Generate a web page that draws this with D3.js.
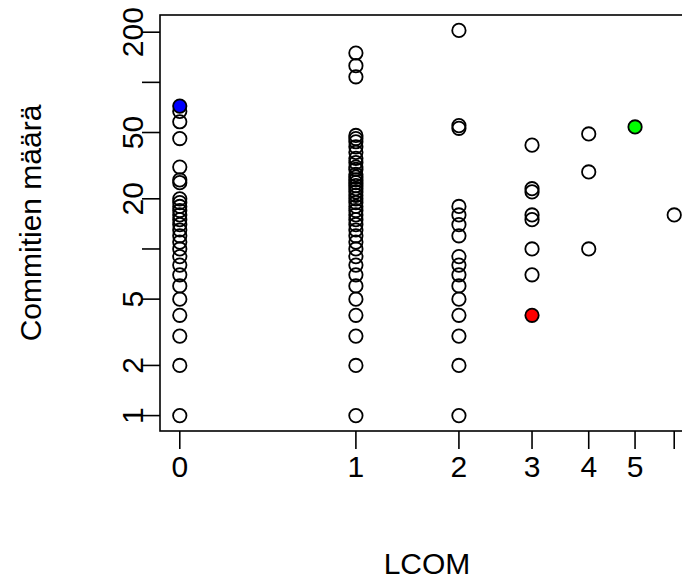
<!DOCTYPE html>
<html>
<head>
<meta charset="utf-8">
<script src="https://cdn.jsdelivr.net/npm/d3@7"></script>
<style>
  body { margin: 0; background: #fff; }
  svg { display: block; }
  text { font-family: "Liberation Sans", Arial, sans-serif; fill: #000; }
</style>
</head>
<body>
<svg id="chart" width="682" height="580"></svg>
<script>
// commits per class, grouped by LCOM value
const lcom0 = [1,2,3,4,5,6,7,8,9,10,11,12,13,14,15,16,17,18,19,20,25,26,31,46,58,67];
const lcom1 = [1,2,3,4,5,6,7,8,9,10,11,12,13,14,15,16,17,18,19,20,21,22,23,24,25,26,27,28,30,31,33,35,38,41,44,46,48,108,126,150];
const lcom2 = [1,2,3,4,5,6,7,8,9,12,14,16,18,53,55,205];
const lcom3 = [7,10,15,16,22,23,42];
const lcom4 = [10,29,49];
const lcom5 = [];
const lcom6 = [16];
// highlighted classes
const hlLcom   = [0, 3, 5];
const hlCommit = [72, 4, 54];
const hlColor  = ["#0000ff", "#ff0000", "#00ff00"];

const xTicks = [0,1,2,3,4,5,6];
const xTickLabels = ["0","1","2","3","4","5",""];
const yTicks = [1,2,5,10,20,50,100,200];
const yTickLabels = ["1","2","5","","20","50","","200"];

const groups = [lcom0, lcom1, lcom2, lcom3, lcom4, lcom5, lcom6];
let pts = [];
groups.forEach((g, i) => g.forEach(v => pts.push({x: i, y: v})));
const hl = hlLcom.map((x, i) => ({x: x, y: hlCommit[i], c: hlColor[i]}));
const all = pts.concat(hl);

const svg = d3.select("#chart");
const L = 160, R = 694, T = 15, B = 431;
const fs = 30;

// R style 4% padding on transformed axes
const lx = d3.extent(all, d => Math.log(d.x + 1));
const px = (lx[1] - lx[0]) * 0.04;
const x = d3.scaleLinear().domain([lx[0] - px, lx[1] + px]).range([L, R]);
const fx = v => x(Math.log(v + 1));

const ly = d3.extent(all, d => Math.log10(d.y));
const py = (ly[1] - ly[0]) * 0.04;
const y = d3.scaleLog().domain([Math.pow(10, ly[0] - py), Math.pow(10, ly[1] + py)]).range([B, T]);

svg.append("rect").attr("x", L).attr("y", T).attr("width", R - L).attr("height", B - T)
  .attr("fill", "none").attr("stroke", "#000").attr("stroke-width", 1.6);

// x axis
const xg = svg.append("g");
xg.selectAll("line").data(xTicks).join("line")
  .attr("x1", fx).attr("x2", fx).attr("y1", B).attr("y2", B + 18)
  .attr("stroke", "#000").attr("stroke-width", 1.6);
xg.selectAll("text").data(xTicks).join("text")
  .attr("x", fx).attr("y", 466).attr("text-anchor", "middle").attr("dominant-baseline", "central")
  .attr("font-size", fs).text((d, i) => xTickLabels[i]);

// y axis
const yg = svg.append("g");
yg.selectAll("line").data(yTicks).join("line")
  .attr("x1", L).attr("x2", L - 18).attr("y1", d => y(d)).attr("y2", d => y(d))
  .attr("stroke", "#000").attr("stroke-width", 1.6);
yg.selectAll("text").data(yTicks).join("text")
  .attr("transform", d => `translate(132,${y(d)}) rotate(-90)`)
  .attr("text-anchor", "middle").attr("dominant-baseline", "central")
  .attr("font-size", fs).text((d, i) => yTickLabels[i]);

svg.append("text").attr("x", (L + R) / 2).attr("y", 563).attr("text-anchor", "middle")
  .attr("dominant-baseline", "central").attr("font-size", fs).text("LCOM");
svg.append("text").attr("transform", `translate(30,${(T + B) / 2}) rotate(-90)`)
  .attr("text-anchor", "middle").attr("dominant-baseline", "central")
  .attr("font-size", fs).text("Commitien määrä");

svg.append("g").selectAll("circle").data(pts).join("circle")
  .attr("cx", d => fx(d.x)).attr("cy", d => y(d.y)).attr("r", 6.7)
  .attr("fill", "none").attr("stroke", "#000").attr("stroke-width", 1.8);
svg.append("g").selectAll("circle").data(hl).join("circle")
  .attr("cx", d => fx(d.x)).attr("cy", d => y(d.y)).attr("r", 6.7)
  .attr("fill", d => d.c).attr("stroke", "#000").attr("stroke-width", 1.8);
</script>
</body>
</html>
